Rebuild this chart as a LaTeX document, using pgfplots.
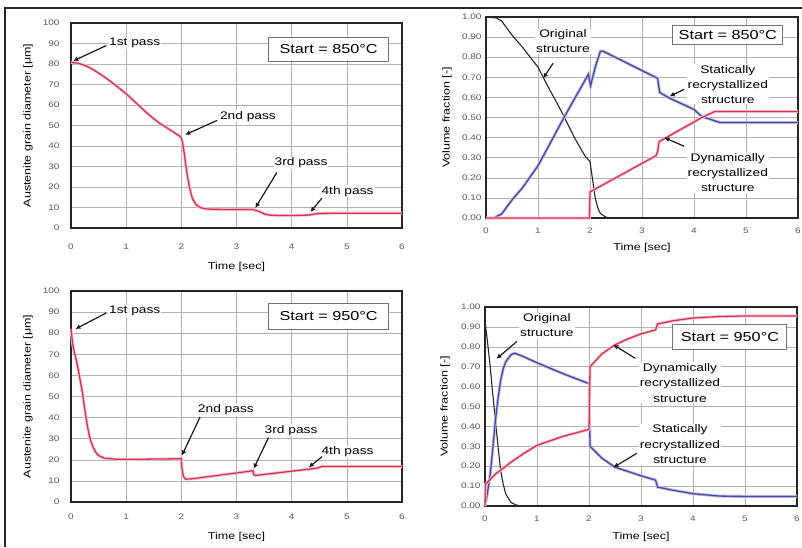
\documentclass[border=0pt]{standalone}
\usepackage{fontspec}
\setmainfont{Liberation Sans}[FakeStretch=1.25]
\usepackage{pgfplots}
\pgfplotsset{compat=1.18}
\usetikzlibrary{arrows.meta}

\definecolor{redline}{RGB}{218,52,82}
\definecolor{redhalo}{RGB}{250,195,205}
\definecolor{blueline}{RGB}{72,72,168}
\definecolor{bluehalo}{RGB}{190,190,232}
\definecolor{gridc}{RGB}{178,178,178}

\tikzset{
  arr/.style={-{Latex[length=5pt,width=5pt]}, line width=1.2pt, black!90},
  ann/.style={fill=white, inner sep=1pt, font=\fontsize{11}{14}\selectfont},
  startbox/.style={draw=black!55, line width=0.9pt, fill=white, inner sep=2pt,
    font=\fontsize{13}{15}\selectfont},
}

\pgfplotsset{
  panel/.style={
    scale only axis, anchor=south west, clip=false,
    xmin=0, xmax=6, xtick={0,1,2,3,4,5,6},
    grid=major, grid style={gridc, line width=0.6pt},
    major tick length=0pt,
    axis line style={black!85, line width=1.2pt},
    tick label style={font=\fontsize{8}{9}\selectfont, text=black!65},
    label style={font=\fontsize{9}{10}\selectfont, text=black!75},
    /pgf/number format/assume math mode=true,
    xlabel={Time [sec]},
  },
  diam/.style={ymin=0, ymax=100, ytick={0,10,...,100},
    ylabel={Austenite grain diameter [μm]}},
  frac/.style={ymin=0, ymax=1, ytick={0,0.1,0.2,0.3,0.4,0.5,0.6,0.7,0.8,0.9,1},
    yticklabel style={/pgf/number format/fixed, /pgf/number format/fixed zerofill,
      /pgf/number format/precision=2},
    ylabel={Volume fraction [-]}},
  redc/.style={redline, line width=1.3pt, preaction={draw=redhalo, line width=3pt}},
  bluec/.style={blueline, line width=1.3pt, preaction={draw=bluehalo, line width=3pt}},
  blackc/.style={black!85, line width=1.1pt},
}

\begin{document}
\begin{tikzpicture}
\path[use as bounding box] (0,0) rectangle (802pt,547pt);
\draw[line width=2pt, black!85] (5pt,0) -- (5pt,539pt) -- (802pt,539pt);

% top left: 850 C grain size
\begin{axis}[panel, diam, at={(71pt,319pt)}, width=331pt, height=205pt,
  yticklabel style={xshift=-8pt}, xticklabel style={yshift=-12pt},
  every axis y label/.style={at={(axis description cs:-0.13,0.5)}, rotate=90, anchor=center},
  every axis x label/.style={at={(axis description cs:0.5,-0.19)}, anchor=center}]
\addplot[redc] coordinates {
(0,80.8) (0.1,80.5) (0.2,79.8) (0.3,78.7) (0.4,77.3) (0.5,75.6) (0.6,73.8)
(0.8,69.8) (1.0,65.5) (1.2,60.5) (1.4,55.5) (1.6,51.2) (1.8,47.8) (1.97,44.8)
(2.0,44.0) (2.03,40.5) (2.06,35) (2.1,27) (2.15,19.5) (2.2,14.5) (2.27,11.3)
(2.35,9.9) (2.45,9.3) (2.6,9.1) (3.0,9.0) (3.3,9.0) (3.4,8.2) (3.5,6.9)
(3.6,6.3) (3.8,6.1) (4.0,6.1) (4.3,6.3) (4.4,6.7) (4.5,7.1) (4.7,7.2) (6,7.2)};
\node[startbox, minimum width=120pt, minimum height=24pt] at (axis cs:4.67,87.2) {Start = 850°C};
\node[ann, anchor=west] at (axis cs:0.67,90.2) {1st pass};
\draw[arr] (axis cs:0.64,89) -- (axis cs:0.04,81.5);
\node[ann, anchor=west] at (axis cs:2.68,54.5) {2nd pass};
\draw[arr] (axis cs:2.65,52.5) -- (axis cs:2.07,45.5);
\node[ann, anchor=west] at (axis cs:3.67,31.7) {3rd pass};
\draw[arr] (axis cs:3.73,27) -- (axis cs:3.34,9.8);
\node[ann, anchor=west] at (axis cs:4.52,17.9) {4th pass};
\draw[arr] (axis cs:4.55,14.6) -- (axis cs:4.34,7.8);
\end{axis}

% top right: 850 C volume fractions
\begin{axis}[panel, frac, at={(486pt,329pt)}, width=312pt, height=201pt,
  yticklabel style={xshift=-1pt}, xticklabel style={yshift=-6pt},
  every axis y label/.style={at={(axis description cs:-0.125,0.5)}, rotate=90, anchor=center},
  every axis x label/.style={at={(axis description cs:0.5,-0.15)}, anchor=center}]
\addplot[blackc] coordinates {
(0,1.0) (0.2,0.995) (0.3,0.98) (0.5,0.91) (0.7,0.85) (1.0,0.75) (1.1,0.70)
(1.2,0.65) (1.4,0.555) (1.5,0.505) (1.7,0.40) (1.9,0.31) (2.0,0.28) (2.05,0.19)
(2.1,0.10) (2.15,0.05) (2.2,0.022) (2.3,0.005) (2.4,0) (6,0)};
\addplot[bluec] coordinates {
(0,0) (0.15,0) (0.3,0.02) (0.5,0.09) (0.7,0.15) (1.0,0.26) (1.25,0.38) (1.5,0.50)
(1.75,0.615) (1.97,0.715) (2.01,0.657) (2.1,0.75) (2.2,0.83) (2.25,0.83)
(3.3,0.695) (3.34,0.625) (3.5,0.60) (4.0,0.54) (4.15,0.505) (4.5,0.475) (6,0.475)};
\addplot[redc] coordinates {
(0,0) (1.99,0) (2.0,0.13) (3.27,0.31) (3.3,0.33) (3.33,0.38) (4.15,0.50)
(4.4,0.53) (6,0.53)};
\node[startbox, minimum width=110pt, minimum height=19pt] at (axis cs:4.65,0.91) {Start = 850°C};
\node[ann, align=center, font=\fontsize{11}{15}\selectfont] at (axis cs:1.48,0.88) {Original\\structure};
\draw[arr] (axis cs:1.29,0.77) -- (axis cs:1.1,0.695);
\node[ann, align=center, font=\fontsize{11}{15}\selectfont] at (axis cs:4.65,0.665) {Statically\\recrystallized\\structure};
\draw[arr] (axis cs:3.81,0.64) -- (axis cs:3.53,0.605);
\node[ann, align=center, font=\fontsize{11}{15}\selectfont] at (axis cs:4.65,0.225) {Dynamically\\recrystallized\\structure};
\draw[arr] (axis cs:3.81,0.357) -- (axis cs:3.43,0.40);
\end{axis}

% bottom left: 950 C grain size
\begin{axis}[panel, diam, at={(71pt,45pt)}, width=331pt, height=211pt,
  yticklabel style={xshift=-8pt}, xticklabel style={yshift=-8pt},
  every axis y label/.style={at={(axis description cs:-0.13,0.5)}, rotate=90, anchor=center},
  every axis x label/.style={at={(axis description cs:0.5,-0.166)}, anchor=center}]
\addplot[redc] coordinates {
(0,82) (0.03,75) (0.06,71) (0.1,67) (0.15,60) (0.2,53) (0.25,44) (0.3,35.5)
(0.35,29.5) (0.4,26) (0.45,23.5) (0.5,22) (0.6,20.8) (0.8,20.3) (1.0,20.2)
(2.0,20.5) (2.01,16) (2.04,12) (2.08,10.8) (2.2,11) (3.3,14.8) (3.31,13)
(3.35,12.6) (4.45,16) (4.55,16.8) (6,16.8)};
\node[startbox, minimum width=120pt, minimum height=26pt] at (axis cs:4.67,88) {Start = 950°C};
\node[ann, anchor=west] at (axis cs:0.67,90.5) {1st pass};
\draw[arr] (axis cs:0.64,89.6) -- (axis cs:0.08,82);
\node[ann, anchor=west] at (axis cs:2.28,43.6) {2nd pass};
\draw[arr] (axis cs:2.34,40.3) -- (axis cs:2.01,22);
\node[ann, anchor=west] at (axis cs:3.49,34) {3rd pass};
\draw[arr] (axis cs:3.58,30.5) -- (axis cs:3.31,15.8);
\node[ann, anchor=west] at (axis cs:4.52,23.7) {4th pass};
\draw[arr] (axis cs:4.55,21.5) -- (axis cs:4.31,16.4);
\end{axis}

% bottom right: 950 C volume fractions
\begin{axis}[panel, frac, at={(485pt,41pt)}, width=312pt, height=199pt,
  yticklabel style={xshift=-1pt}, xticklabel style={yshift=-6pt},
  every axis y label/.style={at={(axis description cs:-0.128,0.5)}, rotate=90, anchor=center},
  every axis x label/.style={at={(axis description cs:0.5,-0.156)}, anchor=center}]
\addplot[blackc] coordinates {
(0,0.93) (0.05,0.82) (0.1,0.70) (0.15,0.56) (0.2,0.43) (0.25,0.30) (0.3,0.18)
(0.35,0.11) (0.4,0.06) (0.5,0.018) (0.6,0.005) (0.7,0) (6,0)};
\addplot[bluec] coordinates {
(0,0) (0.05,0.07) (0.1,0.16) (0.15,0.29) (0.2,0.43) (0.25,0.54) (0.3,0.63)
(0.35,0.69) (0.4,0.725) (0.5,0.76) (0.57,0.768) (0.7,0.755) (1.0,0.72)
(1.5,0.665) (2.0,0.615) (2.02,0.30) (2.25,0.24) (2.5,0.195) (3.0,0.152)
(3.28,0.13) (3.32,0.095) (3.6,0.08) (4.0,0.062) (4.5,0.05) (5,0.048) (6,0.048)};
\addplot[redc] coordinates {
(0,0) (0.01,0.11) (0.2,0.16) (0.3,0.18) (0.5,0.22) (0.75,0.265) (1.0,0.305)
(1.5,0.35) (2.0,0.385) (2.02,0.70) (2.25,0.765) (2.5,0.81) (2.75,0.84)
(3.0,0.865) (3.28,0.885) (3.32,0.915) (3.6,0.93) (4.0,0.945) (4.5,0.952)
(5,0.955) (6,0.955)};
\node[startbox, minimum width=114pt, minimum height=25pt] at (axis cs:4.71,0.848) {Start = 950°C};
\node[ann, align=center, font=\fontsize{11}{15}\selectfont] at (axis cs:1.19,0.908) {Original\\structure};
\draw[arr] (axis cs:0.61,0.826) -- (axis cs:0.22,0.74);
\node[ann, align=center, font=\fontsize{11}{15.5}\selectfont] at (axis cs:3.75,0.62) {Dynamically\\recrystallized\\structure};
\draw[arr] (axis cs:2.89,0.742) -- (axis cs:2.47,0.81);
\node[ann, align=center, font=\fontsize{11}{15.5}\selectfont] at (axis cs:3.75,0.31) {Statically\\recrystallized\\structure};
\draw[arr] (axis cs:2.92,0.265) -- (axis cs:2.47,0.194);
\end{axis}
\end{tikzpicture}
\end{document}
